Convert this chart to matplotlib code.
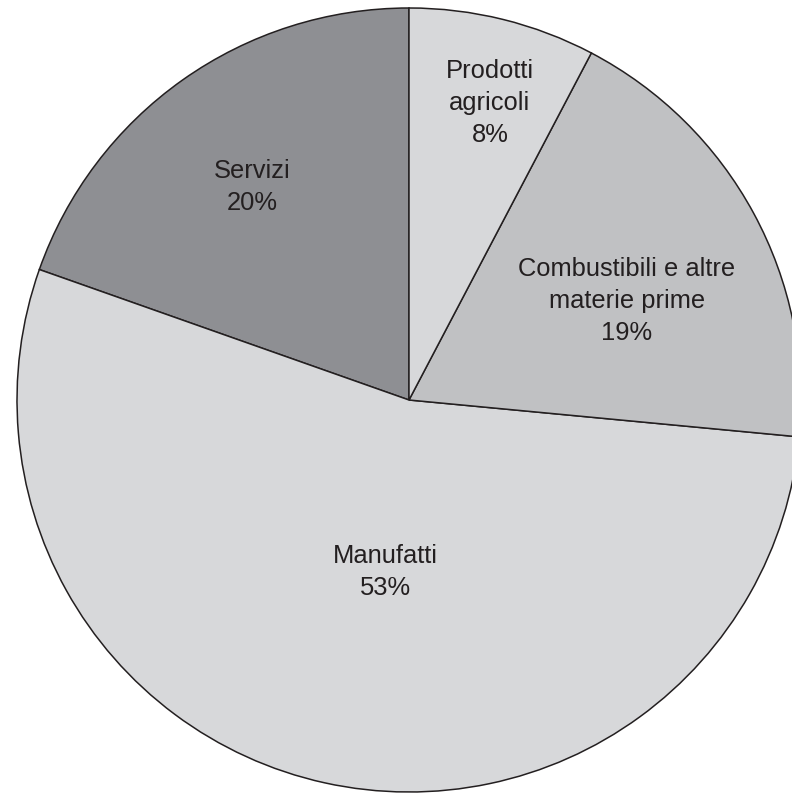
import matplotlib.pyplot as plt

# Dati
categorie = ["Servizi", "Manufatti", "Combustibili e altre\nmaterie prime", "Prodotti\nagricoli"]
etichette_pct = [20, 53, 19, 8]            # percentuali stampate
ampiezze = [19.6, 53.9, 18.8, 7.7]         # ampiezza delle fette come disegnate
colori = ["#8e8f93", "#d7d8da", "#c0c1c3", "#d7d8da"]

# posizione delle etichette (pixel, origine in basso)
pos_etichette = [(252, 606), (385, 221), (627, 492), (490, 690)]

plt.rcParams['font.family'] = ['Liberation Sans', 'DejaVu Sans']

fig = plt.figure(figsize=(7.92, 7.93), dpi=100)
ax = fig.add_axes([0, 0, 1, 1])

ax.pie(ampiezze, colors=colori, startangle=90, counterclock=True,
       center=(409, 393), radius=392, frame=True,
       wedgeprops=dict(edgecolor='#231f20', linewidth=1.1))
ax.set_xlim(0, 792)
ax.set_ylim(0, 793)
ax.set_aspect('equal')
ax.axis('off')

for nome, q, (x, y) in zip(categorie, etichette_pct, pos_etichette):
    ax.text(x, y, f"{nome}\n{q}%", ha='center', va='center',
            fontsize=18.4, color='#231f20', linespacing=1.42)

fig.savefig("out.png", dpi=100)
